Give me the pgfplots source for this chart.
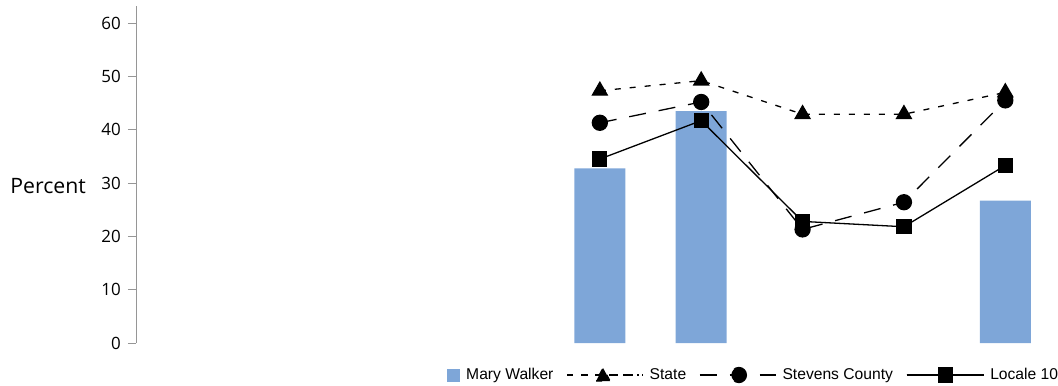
\documentclass[border=0pt]{standalone}
\usepackage{fontspec}
\setmainfont{Open Sans}
\newfontfamily\legendfont{Liberation Sans}
\usepackage{pgfplots}
\pgfplotsset{compat=1.18}
\definecolor{barblue}{RGB}{126,166,216}
\definecolor{axgray}{RGB}{150,150,150}
\begin{document}
\begin{tikzpicture}
\useasboundingbox (0,0) rectangle (1058bp,386bp);
\begin{axis}[
  at={(136bp,43bp)}, anchor=south west,
  scale only axis, width=921bp, height=337bp,
  xmin=-0.576, xmax=8.51, ymin=0, ymax=63.2,
  axis x line=none, axis y line*=left,
  y axis line style={axgray, line width=0.8bp},
  ytick={0,10,...,60}, xtick=\empty,
  tick align=outside, major tick length=8bp,
  y tick style={axgray, line width=0.8bp},
  /pgf/number format/assume math mode=true,
  yticklabel style={font=\fontsize{17}{20}\selectfont, inner sep=0pt, xshift=-7bp},
  ylabel={Percent},
  every axis y label/.style={at={(axis description cs:0,0.466)}, anchor=east, xshift=-50bp, inner sep=0pt, font=\fontsize{21.3}{25}\selectfont},
  clip=false,
  legend columns=-1,
  legend style={draw=none, fill=none, at={(0.3377,-0.095)}, anchor=west, inner sep=0pt,
    nodes={inner sep=0pt, font=\legendfont\fontsize{15.7}{19}\selectfont},
    /tikz/every odd column/.append style={column sep=6bp},
    /tikz/every even column/.append style={column sep=13bp}},
]
\addplot[ybar, bar shift=0pt, bar width=51bp, fill=barblue, draw=none,
  legend image code/.code={\fill[barblue] (0bp,-6.5bp) rectangle (13bp,6.5bp);}]
  coordinates {(4,32.75) (5,43.5) (8,26.7)};
\addlegendentry{Mary Walker}
\addplot[black, line width=1.3bp, dash pattern=on 6bp off 9bp, mark=triangle*, mark size=8.5bp, mark options={solid},
  legend image code/.code={
    \draw[black, line width=1.3bp, dash pattern=on 5bp off 9bp] (0bp,0bp) -- (72bp,0bp);
    \fill[black] (29bp,-6bp) -- (43bp,-6bp) -- (36bp,7bp) -- cycle;
    \path (0bp,0bp) -- (76bp,0bp);}]
  coordinates {(4,47.3) (5,49.2) (6,42.9) (7,42.9) (8,47.0)};
\addlegendentry{State}
\addplot[black, line width=1.3bp, dash pattern=on 17bp off 13bp, mark=*, mark size=7.5bp, mark options={solid},
  legend image code/.code={
    \draw[black, line width=1.3bp] (0bp,0bp) -- (64bp,0bp);
    \fill[black] (39bp,0bp) circle (7.5bp);
    \path (0bp,0bp) -- (76bp,0bp);}]
  coordinates {(4,41.3) (5,45.2) (6,21.3) (7,26.4) (8,45.5)};
\addlegendentry{Stevens County}
\addplot[black, line width=1.3bp, mark=square*, mark size=7bp, mark options={solid},
  legend image code/.code={
    \draw[black, line width=1.3bp] (0bp,0bp) -- (76bp,0bp);
    \fill[black] (32bp,-7bp) rectangle (46bp,7bp);
    \path (0bp,0bp) -- (77bp,0bp);}]
  coordinates {(4,34.5) (5,41.7) (6,22.8) (7,21.8) (8,33.3)};
\addlegendentry{Locale 10}
\end{axis}
\end{tikzpicture}
\end{document}
